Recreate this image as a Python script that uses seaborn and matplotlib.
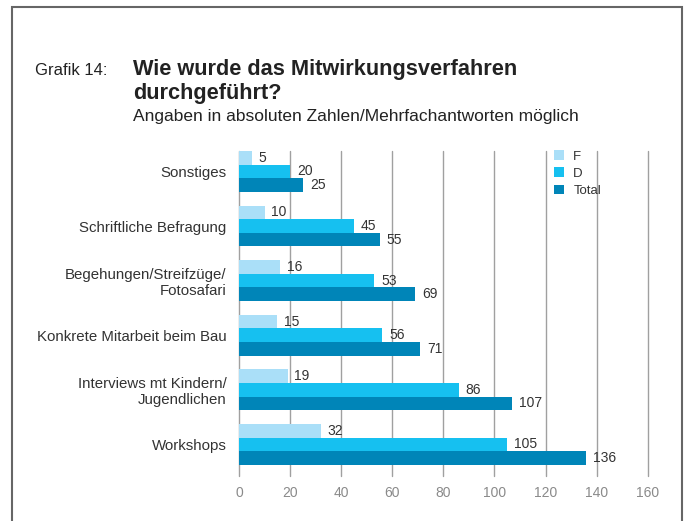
import matplotlib
matplotlib.use("Agg")

import matplotlib.pyplot as plt
import pandas as pd
import seaborn as sns
from matplotlib.patches import Rectangle

# Data
categories = [
    "Sonstiges",
    "Schriftliche Befragung",
    "Begehungen/Streifzüge/\nFotosafari",
    "Konkrete Mitarbeit beim Bau",
    "Interviews mt Kindern/\nJugendlichen",
    "Workshops",
]
values_f = [5, 10, 16, 15, 19, 32]
values_d = [20, 45, 53, 56, 86, 105]
values_total = [25, 55, 69, 71, 107, 136]
series = ["F", "D", "Total"]
colors = ["#aadff8", "#16c0f0", "#0085b8"]
x_ticks = [0, 20, 40, 60, 80, 100, 120, 140, 160]

df = pd.DataFrame({
    "Kategorie": categories * 3,
    "Serie": ["F"] * 6 + ["D"] * 6 + ["Total"] * 6,
    "Wert": values_f + values_d + values_total,
})

sns.set_theme(style="white")
plt.rcParams["font.family"] = ["Liberation Sans", "DejaVu Sans"]

fig = plt.figure(figsize=(6.86, 5.21), dpi=100)
ax = fig.add_axes([0.3484, 0.0864, 0.5959, 0.6238])

sns.barplot(
    data=df, y="Kategorie", x="Wert", hue="Serie",
    order=categories, hue_order=series, palette=colors,
    width=0.75, orient="h", saturation=1, linewidth=0, ax=ax,
)

for cont in ax.containers:
    ax.bar_label(cont, padding=5, fontsize=10, color="#333333")

ax.set_xlim(0, 160)
ax.set_ylim(5.58, -0.375)
ax.set_xticks(x_ticks)
ax.set_xlabel("")
ax.set_ylabel("")
ax.tick_params(axis="x", length=0, pad=7, labelsize=10, labelcolor="#8a8a8a")
ax.tick_params(axis="y", length=0, pad=9, labelsize=10.8, labelcolor="#333333")
for lbl in ax.get_yticklabels():
    lbl.set_horizontalalignment("right")
for s in ax.spines.values():
    s.set_visible(False)
ax.grid(axis="x", color="#a0a0a0", linewidth=1)
for gl in ax.get_xgridlines():
    gl.set_clip_on(False)
ax.set_axisbelow(True)

leg = ax.legend(
    loc="upper left", bbox_to_anchor=(0.758, 1.018), frameon=False,
    fontsize=9.5, handlelength=0.75, handleheight=0.75, labelspacing=0.35,
    handletextpad=0.7, borderaxespad=0,
)
for t in leg.get_texts():
    t.set_color("#333333")

# Titles
fig.text(35 / 686, 1 - 75 / 521, "Grafik 14:", fontsize=12, color="#222222")
fig.text(133 / 686, 1 - 75 / 521, "Wie wurde das Mitwirkungsverfahren",
         fontsize=15.7, fontweight="bold", color="#222222")
fig.text(133 / 686, 1 - 99 / 521, "durchgeführt?",
         fontsize=15.7, fontweight="bold", color="#222222")
fig.text(133 / 686, 1 - 121 / 521,
         "Angaben in absoluten Zahlen/Mehrfachantworten möglich",
         fontsize=12.5, color="#222222")

# Frame around the chart (open at the bottom)
fig.patches.append(Rectangle(
    (12 / 686, -0.05), 670 / 686, 1.05 - 7 / 521,
    transform=fig.transFigure, fill=False, edgecolor="#666666", linewidth=1.5,
))

fig.savefig("out.png", dpi=100)
plt.close(fig)
